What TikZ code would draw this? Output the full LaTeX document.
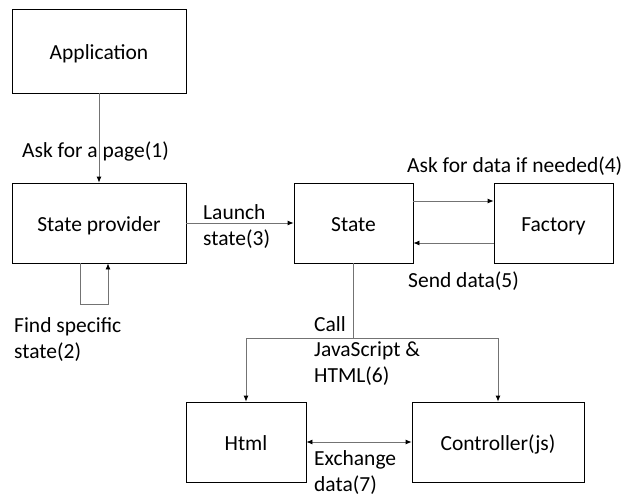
\documentclass[tikz,border=0pt]{standalone}
\usepackage{fontspec}
\setmainfont{Carlito}
\usepackage{tikz}
\usetikzlibrary{arrows.meta}
\usetikzlibrary{positioning}

\begin{document}
\begin{tikzpicture}[x=1pt,y=-1pt,->,>={Latex[length=6pt,width=5pt,color=black]},
                    font=\fontsize{21.5pt}{25.5pt}\selectfont,
                    box/.style={draw=black,line width=0.8pt,minimum height=80pt,inner sep=0pt,
                                text height=18pt,text depth=1pt},
                    link/.style={draw=black!55,line width=0.8pt},
                    lbl/.style={anchor=base west,inner sep=0pt,align=left}]

\useasboundingbox (0,0) rectangle (623,495);

\node[box] (app) at (99,51) [minimum width=174pt, minimum height=84pt] {Application};
\node[box] (prov) at (99,223) [minimum width=174pt] {State provider};
\node[box] (state) at (353.5,223) [minimum width=119pt] {State};
\node[box] (fact) at (553.5,223) [minimum width=119pt] {Factory};
\node[box] (html) at (246,442) [minimum width=120pt] {Html};
\node[box] (ctrl) at (498,442) [minimum width=172pt] {Controller(js)};

% multi-line labels sit on the baseline of their last line
\node[lbl] (l1) at (22,157) {Ask for a page(1)};
\node[lbl] (l2) at (14,358) {Find specific\\state(2)};
\node[lbl] (l3) at (203,245) {Launch\\state(3)};
\node[lbl] (l4) at (407,172) {Ask for data if needed(4)};
\node[lbl] (l5) at (408,287) {Send data(5)};
\node[lbl] (l6) at (314,382) {Call\\JavaScript \&\\HTML(6)};
\node[lbl] (l7) at (314,491) {Exchange\\data(7)};

\draw[link] (app) -- (prov);
\draw[link] ([xshift=-18.5pt]prov.south) -- ++(0,41) -| ([xshift=9pt]prov.south);
\draw[link] (prov) -- (state);
\draw[link] ([yshift=22pt]state.east) -- ([yshift=22pt]fact.west);
\draw[link] ([yshift=-20pt]fact.west) -- ([yshift=-20pt]state.east);
\draw[link,-] (state.south) -- ++(0,75) coordinate (split);
\draw[link] (split) -| (html.north);
\draw[link] (split) -| (ctrl.north);
\draw[link,<->] (html) -- (ctrl);
\end{tikzpicture}
\end{document}
